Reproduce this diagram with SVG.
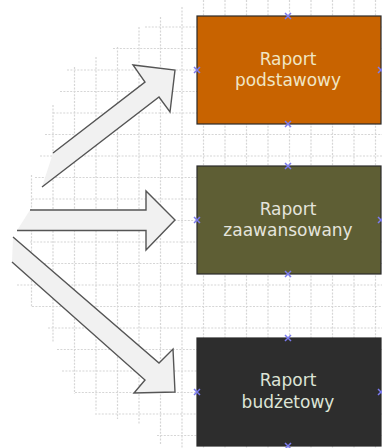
<svg xmlns="http://www.w3.org/2000/svg" width="382" height="448" viewBox="0 0 382 448">
<style>
.g line{stroke:#d6d6d6;stroke-width:1.2;stroke-dasharray:2 1.4;fill:none}
.af{fill:#f1f1f1;stroke:none}
.as{fill:none;stroke:#555;stroke-width:1.4;stroke-linejoin:miter}
.box{stroke:#2a2a2a;stroke-width:1.2}
.t{font-family:"DejaVu Sans",sans-serif;font-size:17px;text-anchor:middle}
.m{stroke:#7b7bf0;stroke-width:1.5;fill:none}
</style>
<defs>
<g id="x"><path class="m" d="M-3,-3L3,3M-3,3L3,-3"/></g>
</defs>
<rect width="382" height="448" fill="#ffffff"/>
<g class="g" id="grid">
<line x1="145" y1="27" x2="382" y2="27"/>
<line x1="113" y1="48.5" x2="382" y2="48.5"/>
<line x1="67" y1="70" x2="382" y2="70"/>
<line x1="60" y1="91.5" x2="382" y2="91.5"/>
<line x1="53" y1="113" x2="382" y2="113"/>
<line x1="45" y1="134.5" x2="382" y2="134.5"/>
<line x1="40" y1="156" x2="382" y2="156"/>
<line x1="35" y1="177.5" x2="382" y2="177.5"/>
<line x1="32" y1="199" x2="382" y2="199"/>
<line x1="28" y1="220.5" x2="382" y2="220.5"/>
<line x1="30" y1="242" x2="382" y2="242"/>
<line x1="17" y1="263.5" x2="382" y2="263.5"/>
<line x1="17" y1="285" x2="382" y2="285"/>
<line x1="32" y1="306.5" x2="382" y2="306.5"/>
<line x1="48" y1="328" x2="382" y2="328"/>
<line x1="57" y1="349.5" x2="382" y2="349.5"/>
<line x1="62" y1="371" x2="382" y2="371"/>
<line x1="75" y1="392.5" x2="382" y2="392.5"/>
<line x1="95" y1="414" x2="382" y2="414"/>
<line x1="157" y1="435.5" x2="382" y2="435.5"/>
<line x1="31.5" y1="175" x2="31.5" y2="307"/>
<line x1="53" y1="105" x2="53" y2="342"/>
<line x1="74.5" y1="67" x2="74.5" y2="394"/>
<line x1="96" y1="57" x2="96" y2="411"/>
<line x1="117.5" y1="47" x2="117.5" y2="419"/>
<line x1="139" y1="27" x2="139" y2="424"/>
<line x1="160.5" y1="17" x2="160.5" y2="444"/>
<line x1="182" y1="7" x2="182" y2="448"/>
<line x1="203.5" y1="0" x2="203.5" y2="448"/>
<line x1="225" y1="0" x2="225" y2="448"/>
<line x1="246.5" y1="0" x2="246.5" y2="448"/>
<line x1="268" y1="0" x2="268" y2="448"/>
<line x1="289.5" y1="0" x2="289.5" y2="448"/>
<line x1="311" y1="0" x2="311" y2="448"/>
<line x1="332.5" y1="0" x2="332.5" y2="448"/>
<line x1="354" y1="0" x2="354" y2="448"/>
<line x1="375.5" y1="0" x2="375.5" y2="448"/>
</g>
<g id="connectors">
<g id="arrow-podstawowy">
<polygon class="af" points="53,153 145,82 133,65 175,70 170,112 159,97 42,187"/>
<polyline class="as" points="53,153 145,82 133,65 175,70 170,112 159,97 42,187"/>
</g>
<g id="arrow-zaawansowany">
<polygon class="af" points="30,210 146,210 146,191 175,220 146,250 146,230.5 17,230.5"/>
<polyline class="as" points="30,210 146,210 146,191 175,220 146,250 146,230.5 17,230.5"/>
</g>
<g id="arrow-budzetowy">
<polygon class="af" points="13,237 159,363 173,349 175,392 134,393 145,380 12,262"/>
<polyline class="as" points="13,237 159,363 173,349 175,392 134,393 145,380 12,262"/>
</g>
</g>
<g id="node-podstawowy">
<rect class="box" x="197" y="16" width="184" height="108" fill="#c86300"/>
<text class="t" x="288" y="65" fill="#f0e6c4">Raport</text>
<text class="t" x="288" y="86" fill="#f0e6c4">podstawowy</text>
<use href="#x" x="288" y="16"/><use href="#x" x="197" y="70"/><use href="#x" x="381" y="70"/><use href="#x" x="288" y="124"/>
</g>
<g id="node-zaawansowany">
<rect class="box" x="197" y="166" width="184" height="108" fill="#5e5e34"/>
<text class="t" x="288" y="215" fill="#e4e4dc">Raport</text>
<text class="t" x="288" y="236" fill="#e4e4dc">zaawansowany</text>
<use href="#x" x="288" y="166"/><use href="#x" x="197" y="220"/><use href="#x" x="381" y="220"/><use href="#x" x="288" y="274"/>
</g>
<g id="node-budzetowy">
<rect class="box" x="197" y="338" width="184" height="108" fill="#2d2d2d"/>
<text class="t" x="288" y="386" fill="#dde4d6">Raport</text>
<text class="t" x="288" y="408" fill="#dde4d6">budżetowy</text>
<use href="#x" x="288" y="338"/><use href="#x" x="197" y="392"/><use href="#x" x="381" y="392"/><use href="#x" x="288" y="446"/>
</g>
</svg>
